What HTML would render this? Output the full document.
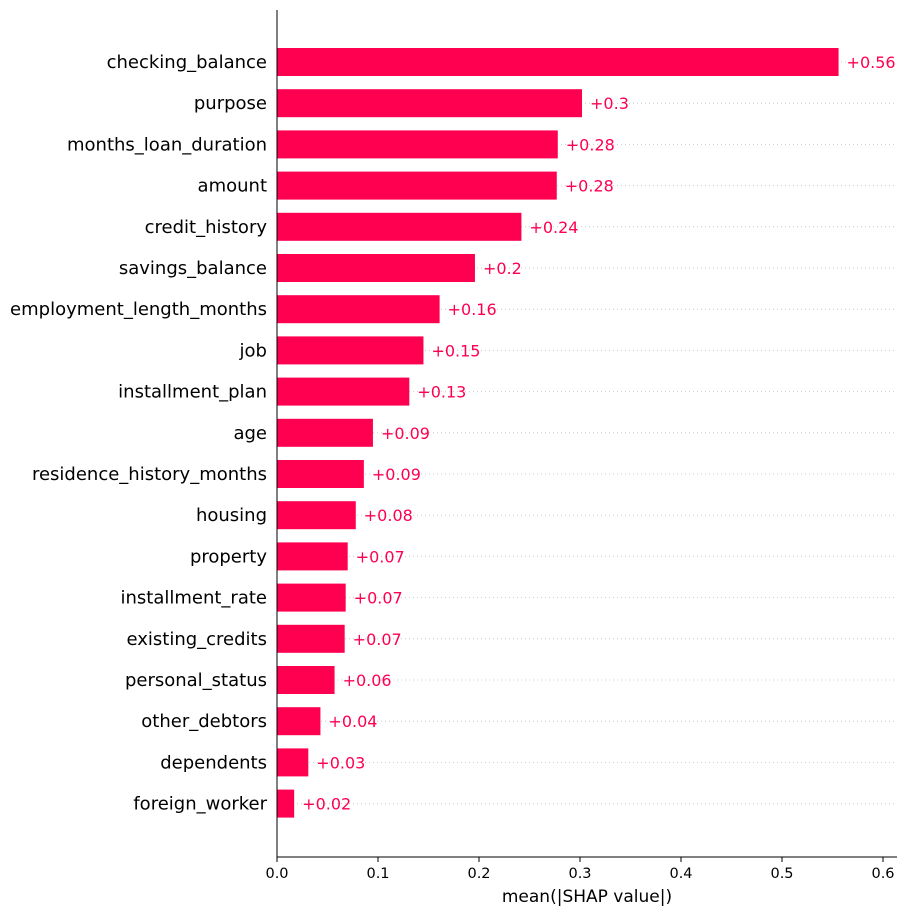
<!DOCTYPE html>
<html><head><meta charset="utf-8"><style>
body{margin:0;background:#fff;font-family:"Liberation Sans","DejaVu Sans",sans-serif}
svg text{font-family:"DejaVu Sans","Liberation Sans",sans-serif}
</style></head><body>
<svg id="chart" width="906" height="915" xmlns="http://www.w3.org/2000/svg"></svg>
<script>
const features=["checking_balance","purpose","months_loan_duration","amount","credit_history","savings_balance","employment_length_months","job","installment_plan","age","residence_history_months","housing","property","installment_rate","existing_credits","personal_status","other_debtors","dependents","foreign_worker"];
const values=[0.556,0.302,0.278,0.277,0.242,0.196,0.161,0.145,0.131,0.095,0.086,0.078,0.070,0.068,0.067,0.057,0.043,0.031,0.017];
const valueLabels=["+0.56","+0.3","+0.28","+0.28","+0.24","+0.2","+0.16","+0.15","+0.13","+0.09","+0.09","+0.08","+0.07","+0.07","+0.07","+0.06","+0.04","+0.03","+0.02"];
const ticks=[0,0.1,0.2,0.3,0.4,0.5,0.6];
const tickLabels=["0.0","0.1","0.2","0.3","0.4","0.5","0.6"];
const NS="http://www.w3.org/2000/svg",svg=document.getElementById('chart');
const x0=277,scale=1010,y0=62,step=41.2,bh=28,axisY=857;
const X=v=>x0+v*scale, Y=i=>y0+i*step;
function mk(t,a,txt){const e=document.createElementNS(NS,t);for(const k in a)e.setAttribute(k,a[k]);if(txt!=null)e.textContent=txt;svg.appendChild(e);return e;}
features.forEach((f,i)=>{
 const g=mk('line',{x1:x0,x2:896,y1:Y(i),y2:Y(i),stroke:'#ccc','stroke-width':1,'stroke-dasharray':'1,3'});
 
 
});
features.forEach((f,i)=>{
 const r=mk('rect',{x:x0,y:Y(i)-bh/2,width:X(values[i])-x0,height:bh,fill:'#ff0051'});
 
 
 const l=mk('text',{x:267,y:Y(i)+6,'text-anchor':'end','font-size':18,fill:'#000'},f);
 
 
 const v=mk('text',{x:X(values[i])+8,y:Y(i)+6,'font-size':16,fill:'#ff0051'},valueLabels[i]);
 
 
});
const ya=mk('line',{x1:x0,x2:x0,y1:10,y2:axisY,stroke:'#000','stroke-width':1});


const xa=mk('line',{x1:x0,x2:897,y1:axisY,y2:axisY,stroke:'#000','stroke-width':1});


ticks.forEach((t,i)=>{
 const tk=mk('line',{x1:X(t),x2:X(t),y1:axisY,y2:axisY+5,stroke:'#000'});
 
 
 const tl=mk('text',{x:X(t),y:axisY+21,'text-anchor':'middle','font-size':14.5},tickLabels[i]);
 
 
});
const xt=mk('text',{x:587,y:902,'text-anchor':'middle','font-size':17},'mean(|SHAP value|)');


</script>
</body></html>
